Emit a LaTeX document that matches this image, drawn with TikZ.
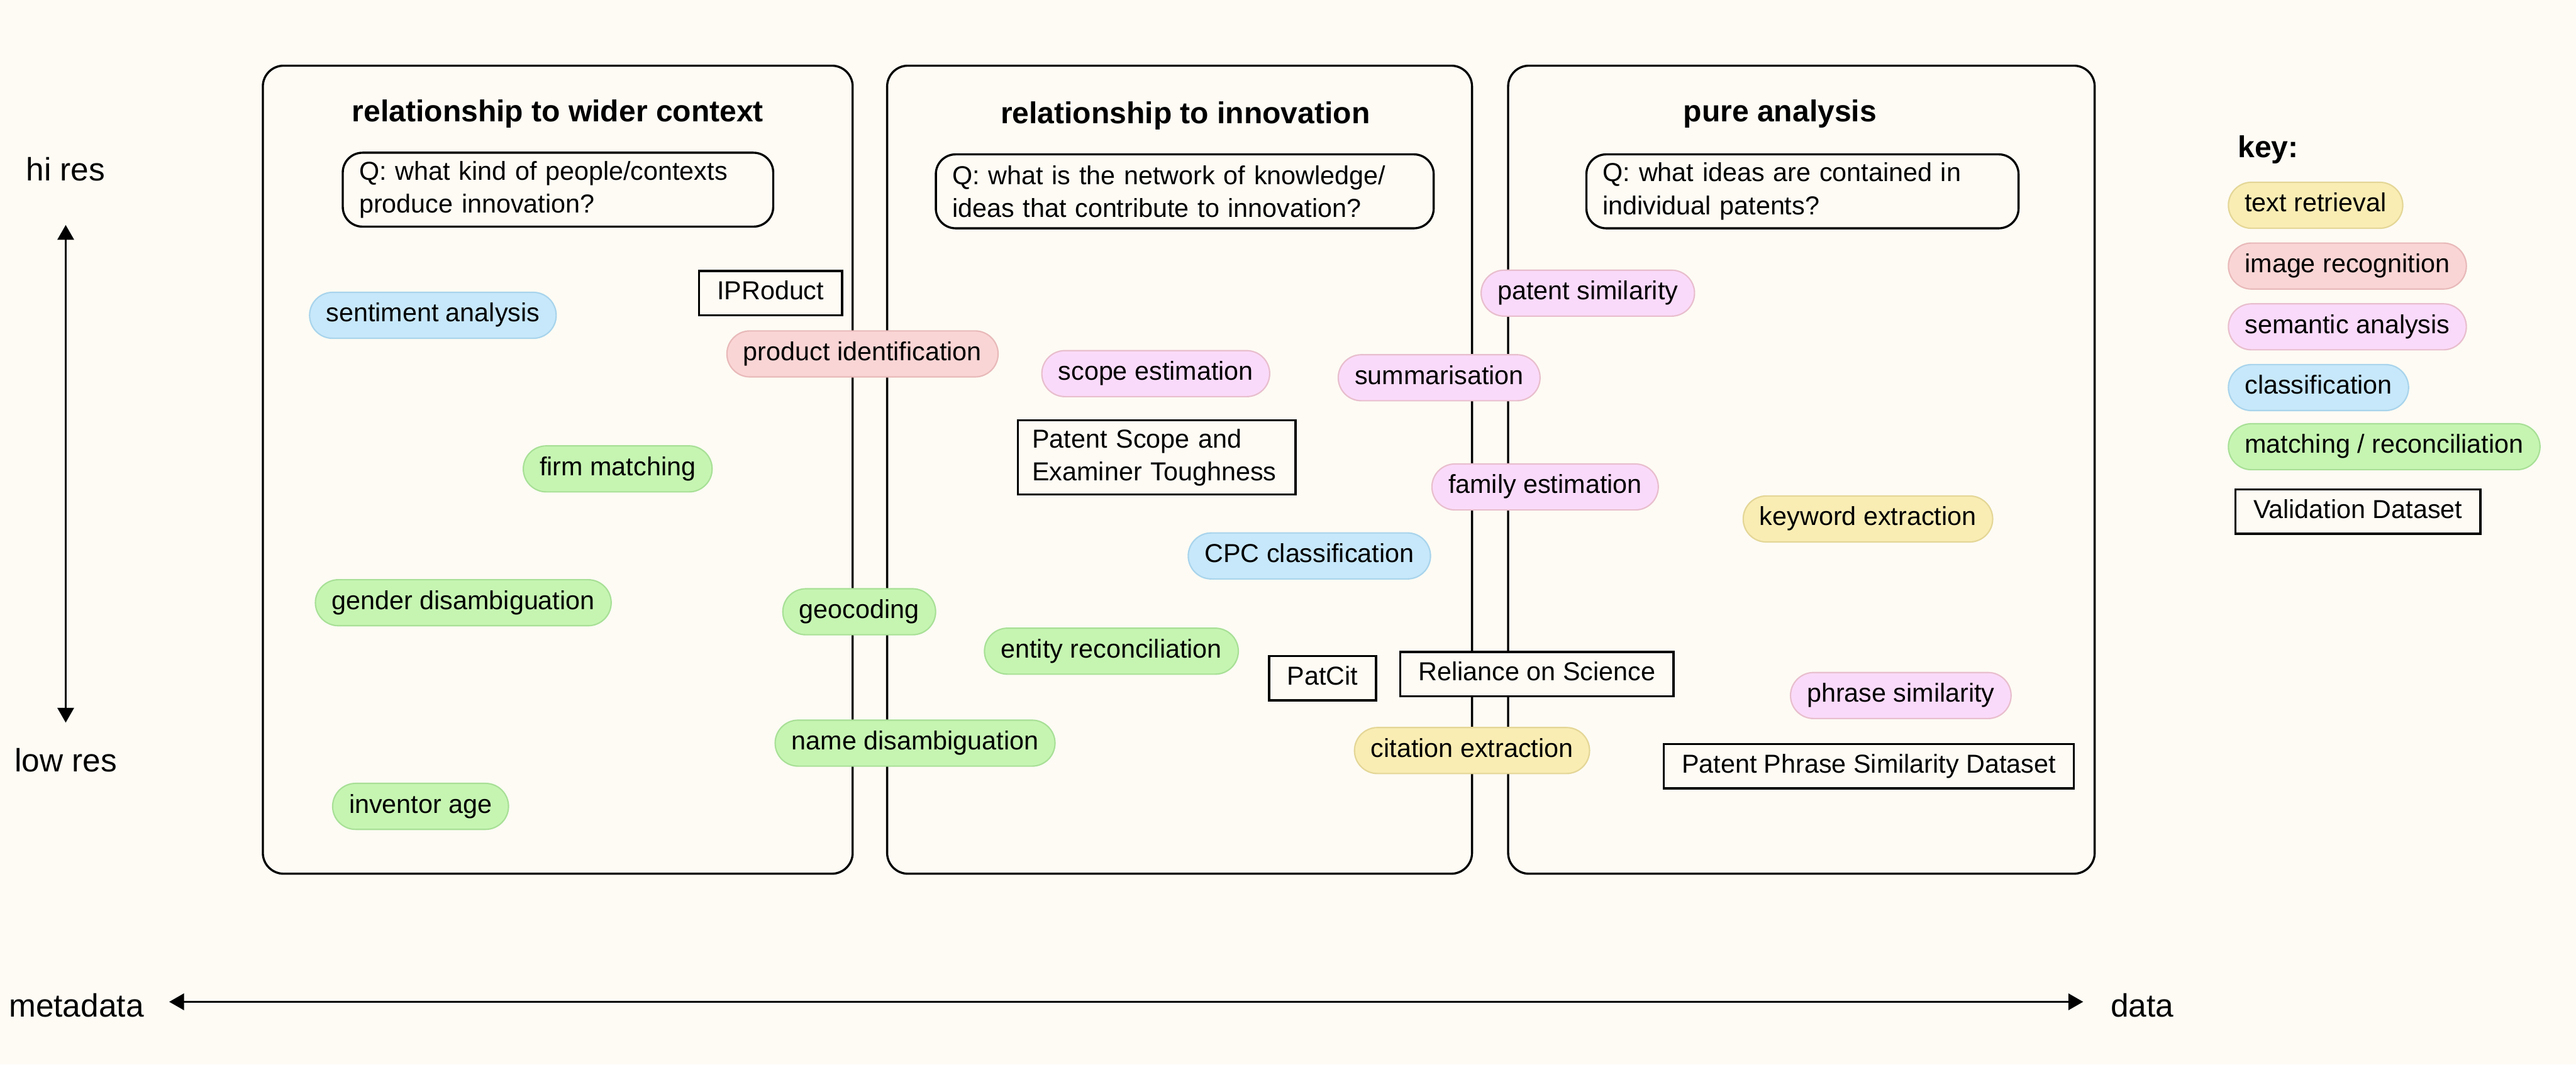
\documentclass[tikz,border=0pt]{standalone}
\usepackage{fontspec}
\setmainfont{Liberation Sans}
\usetikzlibrary{arrows.meta}
\definecolor{bgc}{RGB}{253,251,244}
\definecolor{yelF}{RGB}{249,237,180}
\definecolor{yelD}{RGB}{228,214,150}
\definecolor{redF}{RGB}{250,213,213}
\definecolor{redD}{RGB}{232,185,185}
\definecolor{pinF}{RGB}{250,218,250}
\definecolor{pinD}{RGB}{232,190,205}
\definecolor{bluF}{RGB}{199,232,250}
\definecolor{bluD}{RGB}{168,212,236}
\definecolor{greF}{RGB}{198,245,178}
\definecolor{greD}{RGB}{168,224,150}
\begin{document}
\begin{tikzpicture}[x=0.03cm,y=-0.03cm,
  every node/.style={font=\fontsize{13.5}{17}\selectfont},
  panel/.style={draw, line width=1.1pt, rounded corners=0.38cm, fill=bgc},
  ptitle/.style={font=\bfseries\fontsize{15.7}{19}\selectfont},
  qbox/.style={draw, line width=1.1pt, rounded corners=0.36cm, fill=bgc, anchor=west, align=left, minimum height=1.35cm, inner xsep=0.3cm, inner ysep=0pt},
  pill/.style={rounded corners=0.42cm, minimum height=0.84cm, inner xsep=0.3cm, inner ysep=0pt, text height=0.82em, text depth=0.14em, line width=0.7pt},
  txt/.style={pill, fill=yelF, draw=yelD},
  img/.style={pill, fill=redF, draw=redD},
  sem/.style={pill, fill=pinF, draw=pinD},
  cls/.style={pill, fill=bluF, draw=bluD},
  mat/.style={pill, fill=greF, draw=greD},
  dbase/.style={draw, line width=1.1pt, fill=bgc, inner ysep=0pt},
  dset/.style={dbase, minimum height=0.81cm, inner xsep=0.33cm, text height=0.82em, text depth=0.14em},
  axlab/.style={font=\fontsize{16.8}{20}\selectfont},
  axarrow/.style={line width=1pt, {Triangle[width=0.3cm,length=0.27cm]}-{Triangle[width=0.3cm,length=0.27cm]}}
]
% background
\fill[bgc] (0,0) rectangle (1568,648.2);

% axes
\node[axlab] (hires) at (40,103) {hi res};
\node[axlab] (lowres) at (40,463) {low res};
\node[axlab] (meta) at (46.5,612) {metadata};
\node[axlab] (data) at (1304,612) {data};
\coordinate (vtop) at (40,137);
\coordinate (vbot) at (40,440);
\coordinate (hleft) at (103,610);
\coordinate (hright) at (1268,610);
\draw[axarrow] (vtop) -- (vbot);
\draw[axarrow] (hleft) -- (hright);

% panels
\node[panel, minimum width=10.77cm, minimum height=14.76cm] (p1) at (339.5,286) {};
\node[panel, minimum width=10.68cm, minimum height=14.76cm] (p2) at (718,286) {};
\node[panel, minimum width=10.71cm, minimum height=14.76cm] (p3) at (1096.5,286) {};
\node[ptitle] (t1) at (339.5,69.5) {relationship to wider context};
\node[ptitle] (t2) at (721.5,70.5) {relationship to innovation};
\node[ptitle] (t3) at (1083.5,69.5) {pure analysis};

% questions
\node[qbox, text width=7.26cm] (q1) at (208,115.5) {Q: what kind of people/contexts\\produce innovation?};
\node[qbox, text width=8.49cm] (q2) at (569,116.5) {Q: what is the network of knowledge/\\ideas that contribute to innovation?};
\node[qbox, text width=7.29cm] (q3) at (965,116.5) {Q: what ideas are contained in\\individual patents?};

% datasets
\node[dset] (iproduct) at (469,178.5) {IPRoduct};
\node[dbase, anchor=west, align=left, text width=4.55cm, inner xsep=0.26cm, minimum height=1.35cm] (scopeds) at (619,278.5) {Patent Scope and\\Examiner Toughness};
\node[dset] (patcit) at (805,413) {PatCit};
\node[dset] (ros) at (935.5,410.5) {Reliance on Science};
\node[dset] (ppsd) at (1137.5,466.5) {Patent Phrase Similarity Dataset};

% methods
\node[cls] (sent) at (263.5,192) {sentiment analysis};
\node[img] (prodid) at (525,215.5) {product identification};
\node[sem] (scope) at (703.5,227.5) {scope estimation};
\node[sem] (summ) at (876,230) {summarisation};
\node[sem] (patsim) at (966.5,178.5) {patent similarity};
\node[mat] (firm) at (376,285.5) {firm matching};
\node[sem] (family) at (940.5,296.5) {family estimation};
\node[txt] (keyword) at (1137,316) {keyword extraction};
\node[cls] (cpc) at (797,338.5) {CPC classification};
\node[mat] (gender) at (282,367) {gender disambiguation};
\node[mat] (geo) at (523,372.5) {geocoding};
\node[mat] (entity) at (676.5,396.5) {entity reconciliation};
\node[sem] (phrase) at (1157,423.5) {phrase similarity};
\node[mat] (namedis) at (557,452.5) {name disambiguation};
\node[txt] (citex) at (896,457) {citation extraction};
\node[mat] (invage) at (256,491) {inventor age};

% key
\node[ptitle, anchor=west] (keyt) at (1358,91) {key:};
\node[txt, anchor=west] (k1) at (1356,125) {text retrieval};
\node[img, anchor=west] (k2) at (1356,162) {image recognition};
\node[sem, anchor=west] (k3) at (1356,199) {semantic analysis};
\node[cls, anchor=west] (k4) at (1356,236) {classification};
\node[mat, anchor=west] (k5) at (1356,272) {matching / reconciliation};
\node[dset, anchor=west] (k6) at (1360,311.5) {Validation Dataset};
\end{tikzpicture}
\end{document}
